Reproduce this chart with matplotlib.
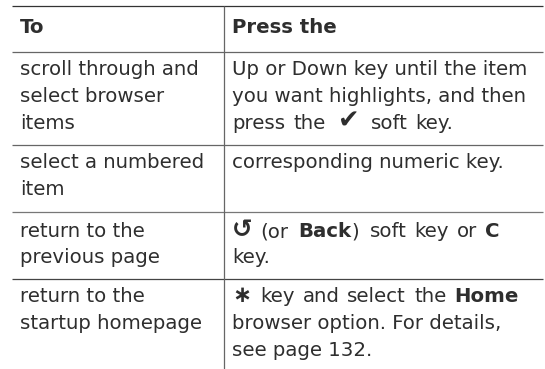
import matplotlib
matplotlib.use("Agg")
import matplotlib.pyplot as plt

W, H = 545, 369
TXT = "#2e2e2e"
FS = 14.25

header_left = "To"
header_right = "Press the"
# each line is a list of (text, bold) runs
left_rows = [
    ["scroll through and", "select browser", "items"],
    ["select a numbered", "item"],
    ["return to the", "previous page"],
    ["return to the", "startup homepage"],
]
right_rows = [
    [[("Up or Down key until the item", False)],
     [("you want highlights, and then", False)],
     [("press the", False), ("\u2714", False), ("soft key.", False)]],
    [[("corresponding numeric key.", False)]],
    [[("\u21ba", True), ("(or", False), ("Back", True), (") soft key or", False), ("C", True)],
     [("key.", False)]],
    [[("\u2217", True), ("key and select the", False), ("Home", True)],
     [("browser option. For details,", False)],
     [("see page 132.", False)]],
]
row_baselines = [[75, 102, 129], [168, 195], [237, 263], [302, 329, 356]]
header_baseline = 33
h_rules = [(6, "#333333"), (52, "#666666"), (145, "#666666"), (212, "#777777"), (279, "#444444")]
icon_scale = {"\u2714": 1.3, "\u21ba": 1.25, "\u2217": 1.15}
word_pad = {"\u2714": (4, 4), "\u2217": (0, 1), "(or": (0, 2), ")": (0, 2)}

fig = plt.figure(figsize=(W / 100, H / 100), dpi=100)
ax = fig.add_axes([0, 0, 1, 1])
ax.set_xlim(0, W)
ax.set_ylim(H, 0)
ax.axis("off")

for y, c in h_rules:
    ax.plot([12, 543], [y, y], color=c, lw=0.9, solid_capstyle="butt")
ax.plot([224, 224], [6, H], color="#666666", lw=0.9, solid_capstyle="butt")

fig.canvas.draw()
rend = fig.canvas.get_renderer()

probe = ax.text(0, 0, "n n", fontsize=FS)
with_space = probe.get_window_extent(rend).width
probe.set_text("nn")
SPACE = with_space - probe.get_window_extent(rend).width
probe.remove()

def put(x, y, s, bold, size=FS):
    t = ax.text(x, y, s, fontsize=size, color=TXT, va="baseline", ha="left",
                fontweight="bold" if bold else "normal")
    return t.get_window_extent(rend).width

def runs(x, y, parts):
    if len(parts) == 1:
        put(x, y, parts[0][0], parts[0][1])
        return
    gap = SPACE + 1.7
    for s, bold in parts:
        for word in s.split(" "):
            if word == ")":
                x -= gap
            before, after = word_pad.get(word, (0, 0))
            x += before
            x += put(x, y, word, bold, FS * icon_scale.get(word, 1.0)) + gap + after

put(20, header_baseline, header_left, True)
put(232, header_baseline, header_right, True)
for lines, ys in zip(left_rows, row_baselines):
    for s, y in zip(lines, ys):
        put(20, y, s, False)
for lines, ys in zip(right_rows, row_baselines):
    for parts, y in zip(lines, ys):
        runs(232, y, parts)

fig.savefig("out.png", dpi=100, facecolor="white")
